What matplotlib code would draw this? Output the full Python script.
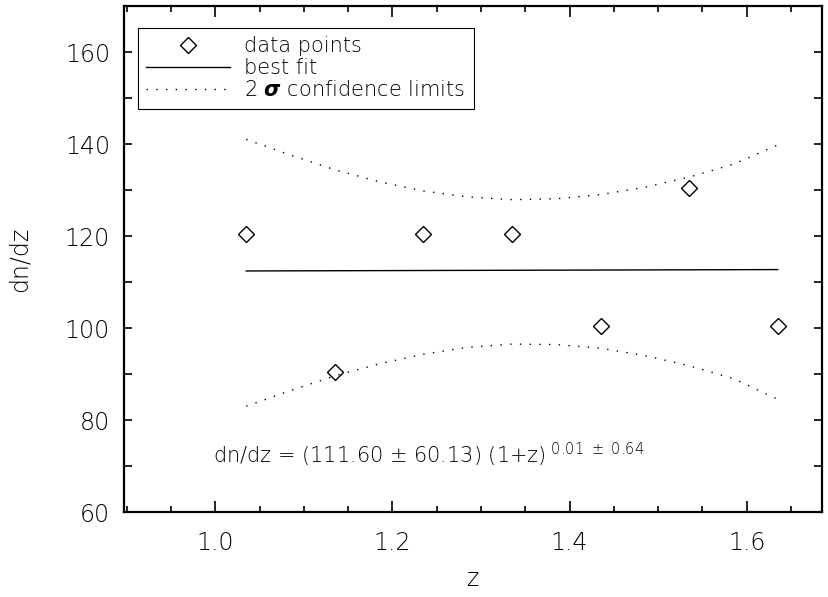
import numpy as np
import matplotlib
matplotlib.use("Agg")
import matplotlib.pyplot as plt
from matplotlib.ticker import MultipleLocator

plt.rcParams['font.family'] = ['DejaVu Sans']
plt.rcParams['font.weight'] = 'light'
plt.rcParams['mathtext.fontset'] = 'dejavusans'

# --- data ---
z_pts = [1.035, 1.135, 1.235, 1.335, 1.435, 1.535, 1.635]
dndz_pts = [120.5, 90.5, 120.5, 120.5, 100.5, 130.5, 100.5]

# best fit line (nearly flat)
z_fit = [1.035, 1.335, 1.635]
fit_vals = [112.4, 112.55, 112.7]

# 2 sigma confidence limits
z_conf = [1.035, 1.085, 1.135, 1.185, 1.235, 1.285, 1.335,
          1.385, 1.435, 1.485, 1.535, 1.585, 1.635]
upper = [141.0, 137.6, 134.4, 131.8, 129.8, 128.5, 127.9,
         128.1, 129.0, 130.6, 132.8, 135.6, 139.8]
lower = [83.0, 86.4, 89.6, 92.2, 94.3, 95.8, 96.5,
         96.4, 95.6, 94.0, 91.8, 89.0, 84.5]

# --- plot ---
fig = plt.figure(figsize=(8.29, 5.97), dpi=100)
ax = fig.add_axes([124/829, 1 - 512/597, 698/829, 506/597])

ax.plot(z_pts, dndz_pts, linestyle='none', marker='D', markersize=8,
        mfc='none', mec='black', mew=1.0, label='data points')
ax.plot(z_fit, fit_vals, color='black', linewidth=1.0, label='best fit')
ax.plot(z_conf, upper, color='black', linewidth=1.0, linestyle=(0, (1, 6)),
        label=r'2 $\boldsymbol{\sigma}$ confidence limits')
ax.plot(z_conf, lower, color='black', linewidth=1.0, linestyle=(0, (1, 6)))

ax.set_xlim(0.897, 1.685)
ax.set_ylim(60, 170)

ax.xaxis.set_major_locator(MultipleLocator(0.2))
ax.xaxis.set_minor_locator(MultipleLocator(0.05))
ax.yaxis.set_major_locator(MultipleLocator(20))
ax.yaxis.set_minor_locator(MultipleLocator(10))
ax.xaxis.set_major_formatter(plt.FormatStrFormatter('%.1f'))

ax.tick_params(which='both', direction='in', top=True, right=True,
               labelsize=17, width=1.2, colors='black')
ax.tick_params(axis='x', which='major', length=8, pad=14)
ax.tick_params(axis='x', which='minor', length=4)
ax.tick_params(axis='y', which='both', length=6, pad=10)
for sp in ax.spines.values():
    sp.set_linewidth(1.6)

ax.set_xlabel('z', fontsize=17, fontweight='light', labelpad=8)
ax.set_ylabel('dn/dz', fontsize=17, fontweight='light', labelpad=24)

ax.text(0.1275, 0.113,
        r'dn/dz = (111.60 $\pm$ 60.13) (1+z)$^{\ 0.01\ \pm\ 0.64}$',
        transform=ax.transAxes, fontsize=15, va='center', ha='left')

leg = ax.legend(loc='upper left', bbox_to_anchor=(14/698, 1 - 22/506),
                borderaxespad=0, fontsize=15, handlelength=4.0,
                handletextpad=0.7, labelspacing=0.1, borderpad=0.4,
                fancybox=False, framealpha=1, edgecolor='black')
leg.get_frame().set_linewidth(0.8)

fig.savefig('out.png', dpi=100)
